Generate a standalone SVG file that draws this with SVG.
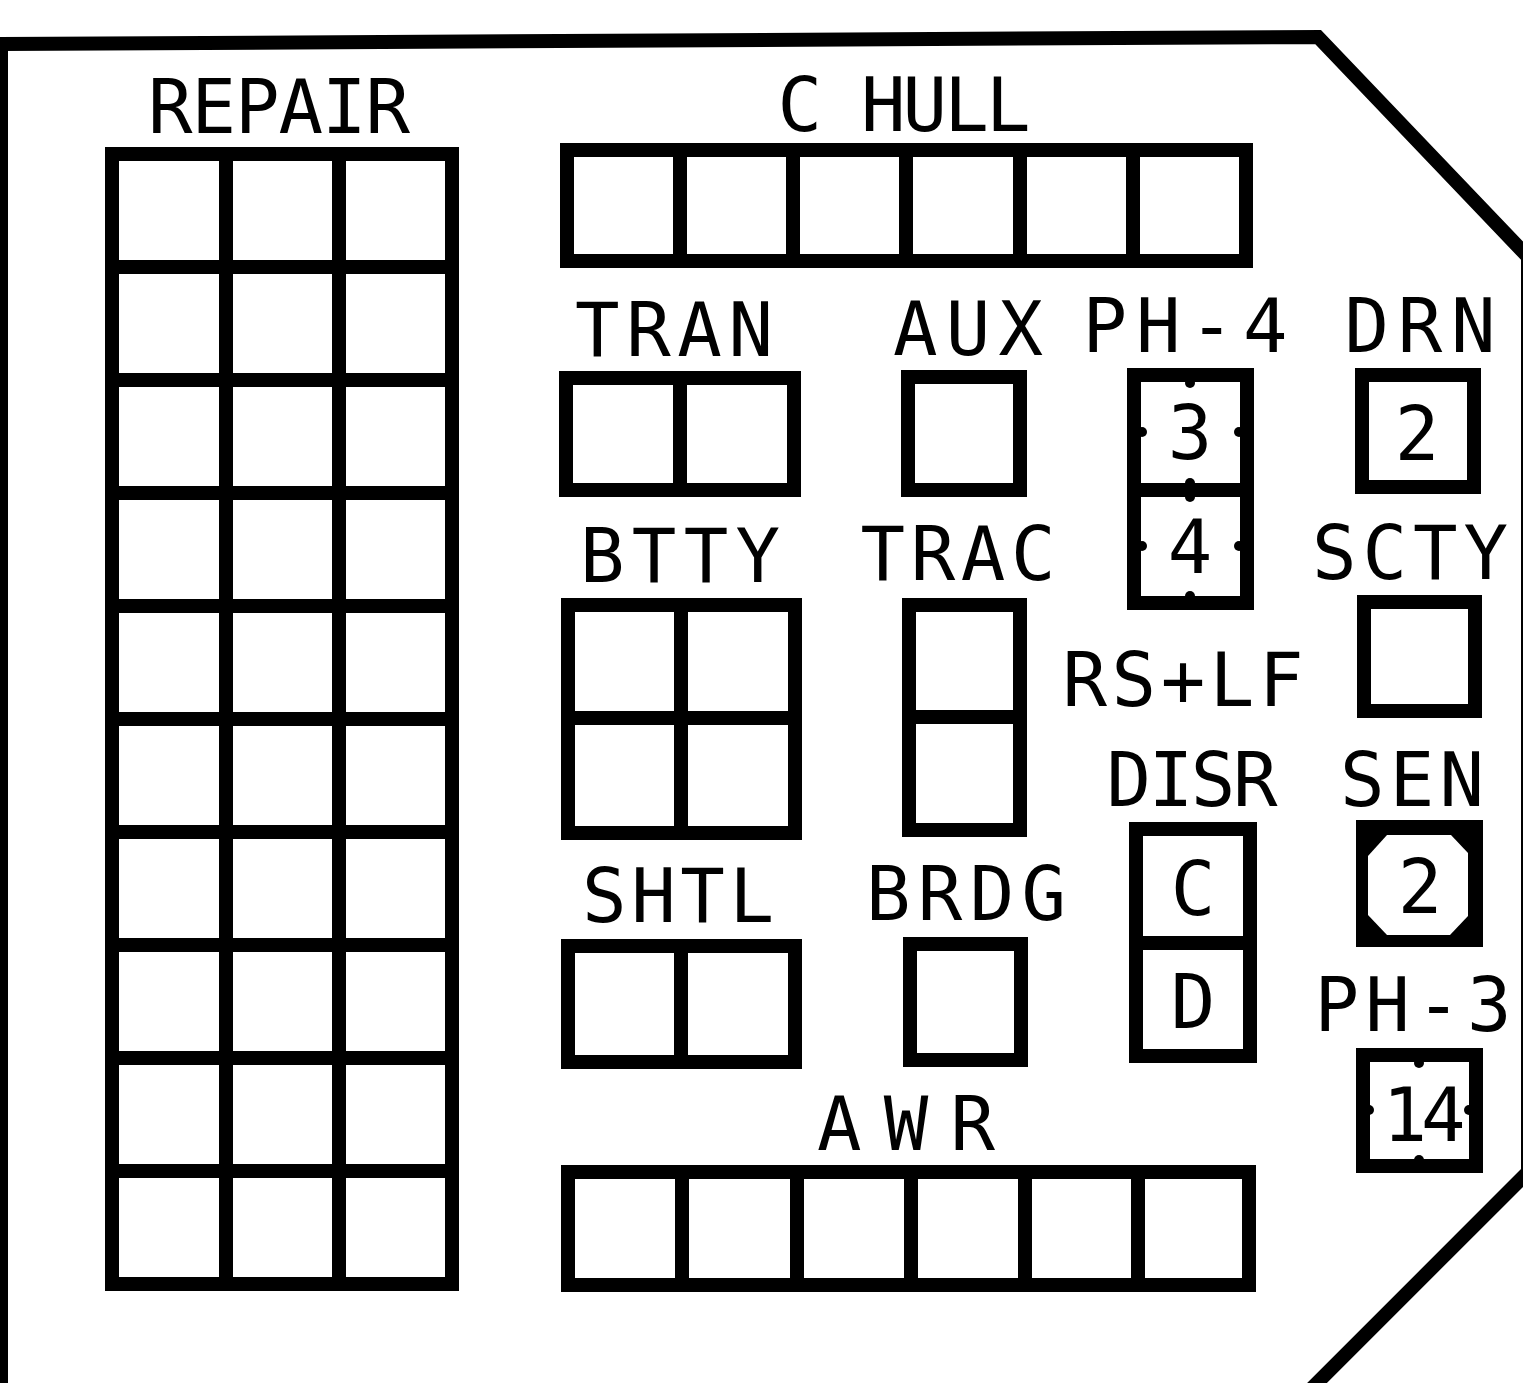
<svg xmlns="http://www.w3.org/2000/svg" width="1523" height="1383" viewBox="0 0 1523 1383">
<style>
.bx{fill:none;stroke:#000;stroke-width:14;stroke-linejoin:miter}
.ln{stroke:#000;stroke-width:14;fill:none}
.lb{font-family:"DejaVu Sans Mono","Liberation Mono",monospace;font-size:74px;fill:#000;text-anchor:middle}
.nb{fill:#000}
</style>
<rect x="0" y="0" width="1523" height="1383" fill="#fff"/>
<g id="outline">
<path class="ln" d="M1,1400 L1,44 L1318,37 L1528,257 L1528,1172 L1310,1390" stroke-linejoin="miter"/>
</g>
<g id="repair">
<text class="lb" x="279" y="133" textLength="262" lengthAdjust="spacing">REPAIR</text>
<rect class="bx" x="112" y="154" width="340" height="1130"/>
<path class="ln" d="M226,154V1284M339,154V1284M112,267H452M112,380H452M112,493H452M112,606H452M112,719H452M112,832H452M112,945H452M112,1058H452M112,1171H452"/>
</g>
<g id="chull">
<text class="lb" x="904" y="131" textLength="253" lengthAdjust="spacing">C HULL</text>
<rect class="bx" x="567" y="150" width="679" height="111"/>
<path class="ln" d="M680,150V261M793,150V261M906,150V261M1020,150V261M1133,150V261"/>
</g>
<g id="tran">
<text class="lb" x="674" y="356" textLength="198" lengthAdjust="spacing">TRAN</text>
<rect class="bx" x="566" y="378" width="228" height="112"/>
<path class="ln" d="M680,378V490"/>
</g>
<g id="aux">
<text class="lb" x="968" y="355" textLength="150" lengthAdjust="spacing">AUX</text>
<rect class="bx" x="908" y="377" width="112" height="113"/>
</g>
<g id="ph4">
<text class="lb" x="1185" y="352" textLength="205" lengthAdjust="spacing">PH-4</text>
<rect class="bx" x="1134" y="375" width="113" height="228"/>
<path class="ln" d="M1134,490H1247"/>
<circle class="nb" cx="1142" cy="432" r="5"/><circle class="nb" cx="1239" cy="432" r="5"/>
<circle class="nb" cx="1142" cy="546" r="5"/><circle class="nb" cx="1239" cy="546" r="5"/>
<circle class="nb" cx="1190" cy="383" r="5"/><circle class="nb" cx="1190" cy="497" r="5"/>
<circle class="nb" cx="1190" cy="483" r="5"/><circle class="nb" cx="1190" cy="596" r="5"/>
<text class="lb" x="1190" y="459">3</text>
<text class="lb" x="1190" y="573">4</text>
</g>
<g id="drn">
<text class="lb" x="1420" y="352" textLength="151" lengthAdjust="spacing">DRN</text>
<rect class="bx" x="1362" y="375" width="112" height="112"/>
<text class="lb" x="1417" y="460">2</text>
</g>
<g id="btty">
<text class="lb" x="680" y="582" textLength="200" lengthAdjust="spacing">BTTY</text>
<rect class="bx" x="568" y="605" width="227" height="228"/>
<path class="ln" d="M681,605V833M568,718H795"/>
</g>
<g id="trac">
<text class="lb" x="958" y="580" textLength="195" lengthAdjust="spacing">TRAC</text>
<rect class="bx" x="909" y="605" width="111" height="225"/>
<path class="ln" d="M909,717H1020"/>
</g>
<g id="scty">
<text class="lb" x="1410" y="579" textLength="196" lengthAdjust="spacing">SCTY</text>
<rect class="bx" x="1364" y="602" width="111" height="109"/>
</g>
<g id="rslf">
<text class="lb" x="1183" y="706" textLength="241" lengthAdjust="spacing">RS+LF</text>
</g>
<g id="disr">
<text class="lb" x="1192" y="806" textLength="171" lengthAdjust="spacing">DISR</text>
<rect class="bx" x="1136" y="829" width="114" height="227"/>
<path class="ln" d="M1136,943H1250"/>
<text class="lb" x="1193" y="915">C</text>
<text class="lb" x="1193" y="1028">D</text>
</g>
<g id="sen">
<text class="lb" x="1412" y="806" textLength="144" lengthAdjust="spacing">SEN</text>
<rect x="1356" y="820" width="127" height="127" fill="#000"/>
<polygon points="1387,835 1451,835 1468,853 1468,916 1450,935 1387,935 1368,915 1368,856" fill="#fff"/>
<text class="lb" x="1420" y="913">2</text>
</g>
<g id="shtl">
<text class="lb" x="678" y="922" textLength="192" lengthAdjust="spacing">SHTL</text>
<rect class="bx" x="568" y="946" width="227" height="116"/>
<path class="ln" d="M681,946V1062"/>
</g>
<g id="brdg">
<text class="lb" x="966" y="920" textLength="200" lengthAdjust="spacing">BRDG</text>
<rect class="bx" x="910" y="944" width="111" height="116"/>
</g>
<g id="ph3">
<text class="lb" x="1413" y="1031" textLength="197" lengthAdjust="spacing">PH-3</text>
<rect class="bx" x="1363" y="1055" width="113" height="111"/>
<circle class="nb" cx="1369" cy="1110" r="5"/><circle class="nb" cx="1469" cy="1110" r="5"/>
<circle class="nb" cx="1419" cy="1063" r="5"/><circle class="nb" cx="1419" cy="1160" r="5"/>
<text class="lb" x="1421" y="1141" font-size="66" letter-spacing="-6">14</text>
</g>
<g id="awr">
<text class="lb" x="906" y="1150" textLength="178" lengthAdjust="spacing">AWR</text>
<rect class="bx" x="568" y="1172" width="681" height="113"/>
<path class="ln" d="M682,1172V1285M797,1172V1285M911,1172V1285M1025,1172V1285M1138,1172V1285"/>
</g>
</svg>
